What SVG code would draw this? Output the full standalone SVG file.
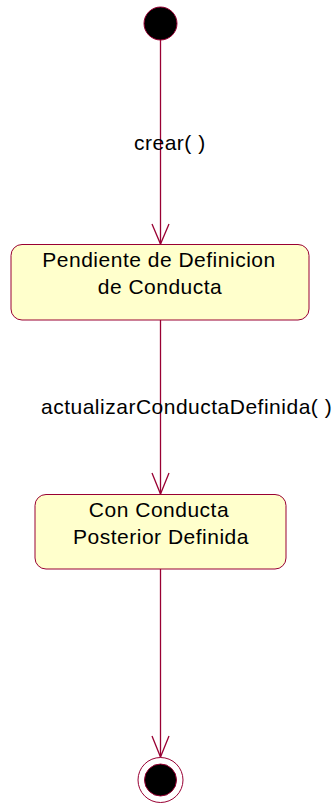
<svg xmlns="http://www.w3.org/2000/svg" width="335" height="803" viewBox="0 0 335 803">
<style>
.st{fill:#ffffcc;stroke:#990033;stroke-width:1}
.ln{fill:none;stroke:#990033;stroke-width:1.3}
.t{font-family:"Liberation Sans",Arial,sans-serif;font-size:21px;letter-spacing:0.5px;fill:#000}
.c{text-anchor:middle}
</style>
<rect width="335" height="803" fill="#fff"/>
<g id="connectors">
<path class="ln" d="M160.5,40 V244"/>
<path class="ln" d="M152,224 L160.5,244 L169,224"/>
<text class="t" x="134" y="150">crear( )</text>
<path class="ln" d="M160.5,320 V494"/>
<path class="ln" d="M152,473 L160.5,494 L169,473"/>
<text class="t" x="41" y="414">actualizarConductaDefinida( )</text>
<path class="ln" d="M160.5,569 V757"/>
<path class="ln" d="M152,736 L160.5,757 L169,736"/>
</g>
<g id="start">
<circle cx="160.5" cy="23.5" r="16.5" fill="#000" stroke="#990033" stroke-width="1"/>
</g>
<g id="pendiente">
<rect class="st" x="11" y="244.5" width="298" height="75.5" rx="11" ry="11"/>
<text class="t c" x="159" y="267">Pendiente de Definicion</text>
<text class="t c" x="160" y="294">de Conducta</text>
</g>
<g id="conConducta">
<rect class="st" x="35" y="494.5" width="251" height="74.5" rx="11" ry="11"/>
<text class="t c" x="159" y="517">Con Conducta</text>
<text class="t c" x="161" y="544">Posterior Definida</text>
</g>
<g id="end">
<circle cx="160.5" cy="780" r="22.5" fill="#fff" stroke="#990033" stroke-width="1"/>
<circle cx="160.5" cy="780" r="16" fill="#000" stroke="#990033" stroke-width="1"/>
</g>
</svg>
